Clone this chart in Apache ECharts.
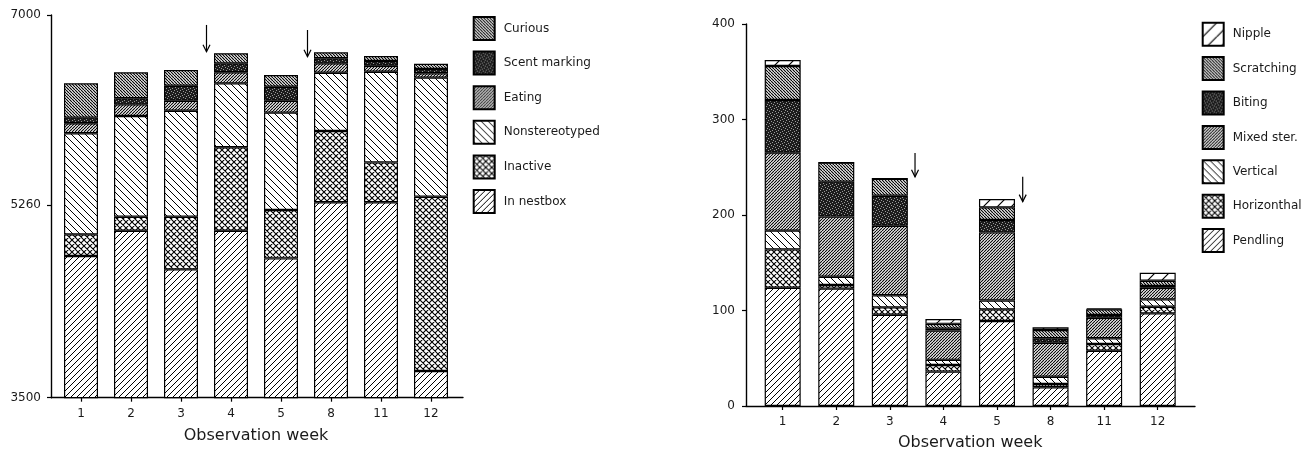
<!DOCTYPE html>
<html>
<head>
<meta charset="utf-8">
<script src="https://cdn.jsdelivr.net/npm/echarts@6/dist/echarts.min.js"></script>
<style>
html,body{margin:0;padding:0;background:#fff;}
#chart{width:1312px;height:452px;}
</style>
</head>
<body>
<div id="chart"></div>
<script>
// ---------- DATA ----------
const weeks = ['1', '2', '3', '4', '5', '8', '11', '12'];

// Left chart: stacked segment sizes (bottom to top)
const inNestbox      = [4796, 5027, 4674, 5027, 4774, 5287, 5287, 3744];
const inactive       = [198, 128, 481, 763, 442, 652, 365, 1594];
const nonstereotyped = [924, 921, 970, 585, 891, 533, 829, 1089];
const eating         = [92, 107, 91, 101, 109, 86, 55, 40];
const scentMarking   = [51, 55, 137, 82, 128, 46, 43, 39];
const curious        = [314, 238, 144, 92, 107, 55, 46, 48];
const leftTicks = [3500, 5260, 7000];

// Right chart: stacked segment sizes (bottom to top)
const pendling    = [123.9, 122.9, 95.6, 36, 89, 19.6, 57.9, 97];
const horizonthal = [40.1, 3.8, 7.7, 7, 12.2, 3.4, 7, 7];
const vertical    = [19.6, 8.7, 12.6, 5.3, 9.3, 7.7, 6, 7.7];
const mixedSter   = [81.7, 62.9, 72.9, 30.7, 71.3, 35.6, 21.4, 12];
const biting      = [55.1, 36.6, 31.4, 2, 13, 4.6, 3, 2];
const scratching  = [35.6, 19.9, 17.8, 5, 13.2, 8.7, 5.9, 5.5];
const nipple      = [6.3, 0, 0, 5, 8.8, 2.8, 1.1, 8.4];

// Arrows (x in category-index units, y from, y to)
const leftArrows  = [[2.51, 6909, 6664], [4.53, 6863, 6619]];
const rightArrows = [[2.47, 265, 240], [4.48, 240, 214]];

// ---------- PATTERNS ----------
function hatch(p, dir, lw) {
  const c = document.createElement('canvas');
  c.width = p; c.height = p;
  const g = c.getContext('2d');
  g.fillStyle = '#fff'; g.fillRect(0, 0, p, p);
  g.strokeStyle = '#000'; g.lineWidth = lw;
  g.beginPath();
  for (let k = -1; k <= 1; k++) {
    if (dir === '/' || dir === 'x') { g.moveTo(k * p, p); g.lineTo(k * p + p, 0); }
    if (dir === '\\' || dir === 'x') { g.moveTo(k * p, 0); g.lineTo(k * p + p, p); }
  }
  g.stroke();
  return c;
}
function stipple() {
  const c = document.createElement('canvas');
  c.width = 6; c.height = 6;
  const g = c.getContext('2d');
  g.fillStyle = '#1c1c1c'; g.fillRect(0, 0, 6, 6);
  g.fillStyle = '#9a9a9a';
  [[0,0],[3,1],[1,3],[4,4],[2,5],[5,2]].forEach(function (q) { g.fillRect(q[0], q[1], 1, 1); });
  return c;
}
function pat(canvas) { return { image: canvas, repeat: 'repeat' }; }

const P = {
  sparseSlash: pat(hatch(6, '/', 1)),
  sparseBack: pat(hatch(7, '\\', 1)),
  cross: pat(hatch(6, 'x', 1.1)),
  denseSlash: pat(hatch(3, '/', 1.1)),
  denseBack: pat(hatch(3, '\\', 1.2)),
  dark: pat(stipple()),
  nipple: pat(hatch(14, '/', 1.2))
};

const FONT = 'DejaVu Sans';
const TXT = '#1a1a1a';

function barSeries(name, data, fill, xi, yi, stack, bw) {
  return {
    name: name, type: 'bar', stack: stack, data: data,
    xAxisIndex: xi, yAxisIndex: yi, barWidth: bw,
    itemStyle: { color: fill, borderColor: '#000', borderWidth: 1.2 },
    emphasis: { disabled: true }, animation: false
  };
}
function arrowSeries(arrows, xi, yi) {
  return {
    type: 'custom', data: arrows, xAxisIndex: xi, yAxisIndex: yi, silent: true, animation: false,
    encode: { x: 0, y: [1, 2] },
    renderItem: function (params, api) {
      const a = api.coord([api.value(0), api.value(1)]);
      const b = api.coord([api.value(0), api.value(2)]);
      return {
        type: 'group',
        children: [
          { type: 'line', shape: { x1: a[0], y1: a[1], x2: b[0], y2: b[1] }, style: { stroke: '#000', lineWidth: 1.2 } },
          { type: 'polyline', shape: { points: [[b[0] - 3.5, b[1] - 7], [b[0], b[1]], [b[0] + 3.5, b[1] - 7]] },
            style: { stroke: '#000', fill: null, lineWidth: 1.2 } }
        ]
      };
    }
  };
}

const catAxis = function (gi, gap) {
  return {
    type: 'category', gridIndex: gi, data: weeks,
    axisLine: { show: false, onZero: false },
    axisTick: { show: true, alignWithLabel: true, length: 4, lineStyle: { color: '#000', width: 1.2 } },
    axisLabel: { color: TXT, fontFamily: FONT, fontSize: 12, margin: 10 },
    name: 'Observation week', nameLocation: 'middle', nameGap: gap,
    nameTextStyle: { color: TXT, fontFamily: FONT, fontSize: 16 }
  };
};
const lineAxis = function (gi, min, max) {
  return {
    type: 'value', gridIndex: gi, min: min, max: max,
    axisLine: { show: true, onZero: false, lineStyle: { color: '#000', width: 1.4 } },
    axisTick: { show: false }, axisLabel: { show: false }, splitLine: { show: false }
  };
};
const hiddenY = function (gi, min, max) {
  return { type: 'value', gridIndex: gi, min: min, max: max, show: false, splitLine: { show: false },
           axisLine: { onZero: false } };
};
const gridBase = { outerBoundsMode: 'none', containLabel: false };
const plain = function (v) { return String(v); };

const option = {
  backgroundColor: '#fff',
  animation: false,
  textStyle: { fontFamily: FONT },
  grid: [
    Object.assign({ left: 56, top: 15, width: 400, height: 382.7 }, gridBase),
    Object.assign({ left: 51, top: 15, width: 412, height: 382.7 }, gridBase),
    Object.assign({ left: 755.9, top: 24, width: 428.6, height: 382 }, gridBase),
    Object.assign({ left: 746, top: 24, width: 449, height: 382 }, gridBase)
  ],
  xAxis: [
    catAxis(0, 30),
    lineAxis(1, -0.6, 7.64),
    catAxis(2, 29),
    lineAxis(3, -0.685, 7.696)
  ],
  yAxis: [
    hiddenY(0, 3500, 7000),
    {
      type: 'value', gridIndex: 1, min: 3500, max: 7000,
      axisLine: { show: true, onZero: false, lineStyle: { color: '#000', width: 1.4 } },
      axisTick: { show: true, length: 4, customValues: leftTicks, lineStyle: { color: '#000', width: 1.2 } },
      axisLabel: { customValues: leftTicks, formatter: plain, color: TXT, fontFamily: FONT, fontSize: 12, margin: 10 },
      splitLine: { show: false }
    },
    hiddenY(2, 0, 400),
    {
      type: 'value', gridIndex: 3, min: 0, max: 400, interval: 100,
      axisLine: { show: true, onZero: false, lineStyle: { color: '#000', width: 1.4 } },
      axisTick: { show: true, length: 4, lineStyle: { color: '#000', width: 1.2 } },
      axisLabel: { formatter: plain, color: TXT, fontFamily: FONT, fontSize: 12, margin: 11 },
      splitLine: { show: false }
    }
  ],
  legend: [
    {
      orient: 'vertical', left: 467.7, top: 11, itemWidth: 21, itemHeight: 23, itemGap: 9.6,
      icon: 'rect',
      data: ['Curious', 'Scent marking', 'Eating', 'Nonstereotyped', 'Inactive', 'In nestbox'],
      textStyle: { color: TXT, fontFamily: FONT, fontSize: 12, padding: [0, 0, 0, 4] },
      selectedMode: false
    },
    {
      orient: 'vertical', left: 1196.7, top: 16.7, itemWidth: 21, itemHeight: 23, itemGap: 9.4,
      icon: 'rect',
      data: ['Nipple', 'Scratching', 'Biting', 'Mixed ster.', 'Vertical', 'Horizonthal', 'Pendling'],
      textStyle: { color: TXT, fontFamily: FONT, fontSize: 12, padding: [0, 0, 0, 4] },
      selectedMode: false
    }
  ],
  series: [
    barSeries('In nestbox', inNestbox, P.sparseSlash, 0, 0, 'L', 34),
    barSeries('Inactive', inactive, P.cross, 0, 0, 'L', 34),
    barSeries('Nonstereotyped', nonstereotyped, P.sparseBack, 0, 0, 'L', 34),
    barSeries('Eating', eating, P.denseSlash, 0, 0, 'L', 34),
    barSeries('Scent marking', scentMarking, P.dark, 0, 0, 'L', 34),
    barSeries('Curious', curious, P.denseBack, 0, 0, 'L', 34),
    arrowSeries(leftArrows, 1, 1),

    barSeries('Pendling', pendling, P.sparseSlash, 2, 2, 'R', 36),
    barSeries('Horizonthal', horizonthal, P.cross, 2, 2, 'R', 36),
    barSeries('Vertical', vertical, P.sparseBack, 2, 2, 'R', 36),
    barSeries('Mixed ster.', mixedSter, P.denseSlash, 2, 2, 'R', 36),
    barSeries('Biting', biting, P.dark, 2, 2, 'R', 36),
    barSeries('Scratching', scratching, P.denseBack, 2, 2, 'R', 36),
    barSeries('Nipple', nipple, P.nipple, 2, 2, 'R', 36),
    arrowSeries(rightArrows, 3, 3)
  ]
};

const chart = echarts.init(document.getElementById('chart'), null, { renderer: 'canvas' });
chart.setOption(option);
</script>
</body>
</html>
